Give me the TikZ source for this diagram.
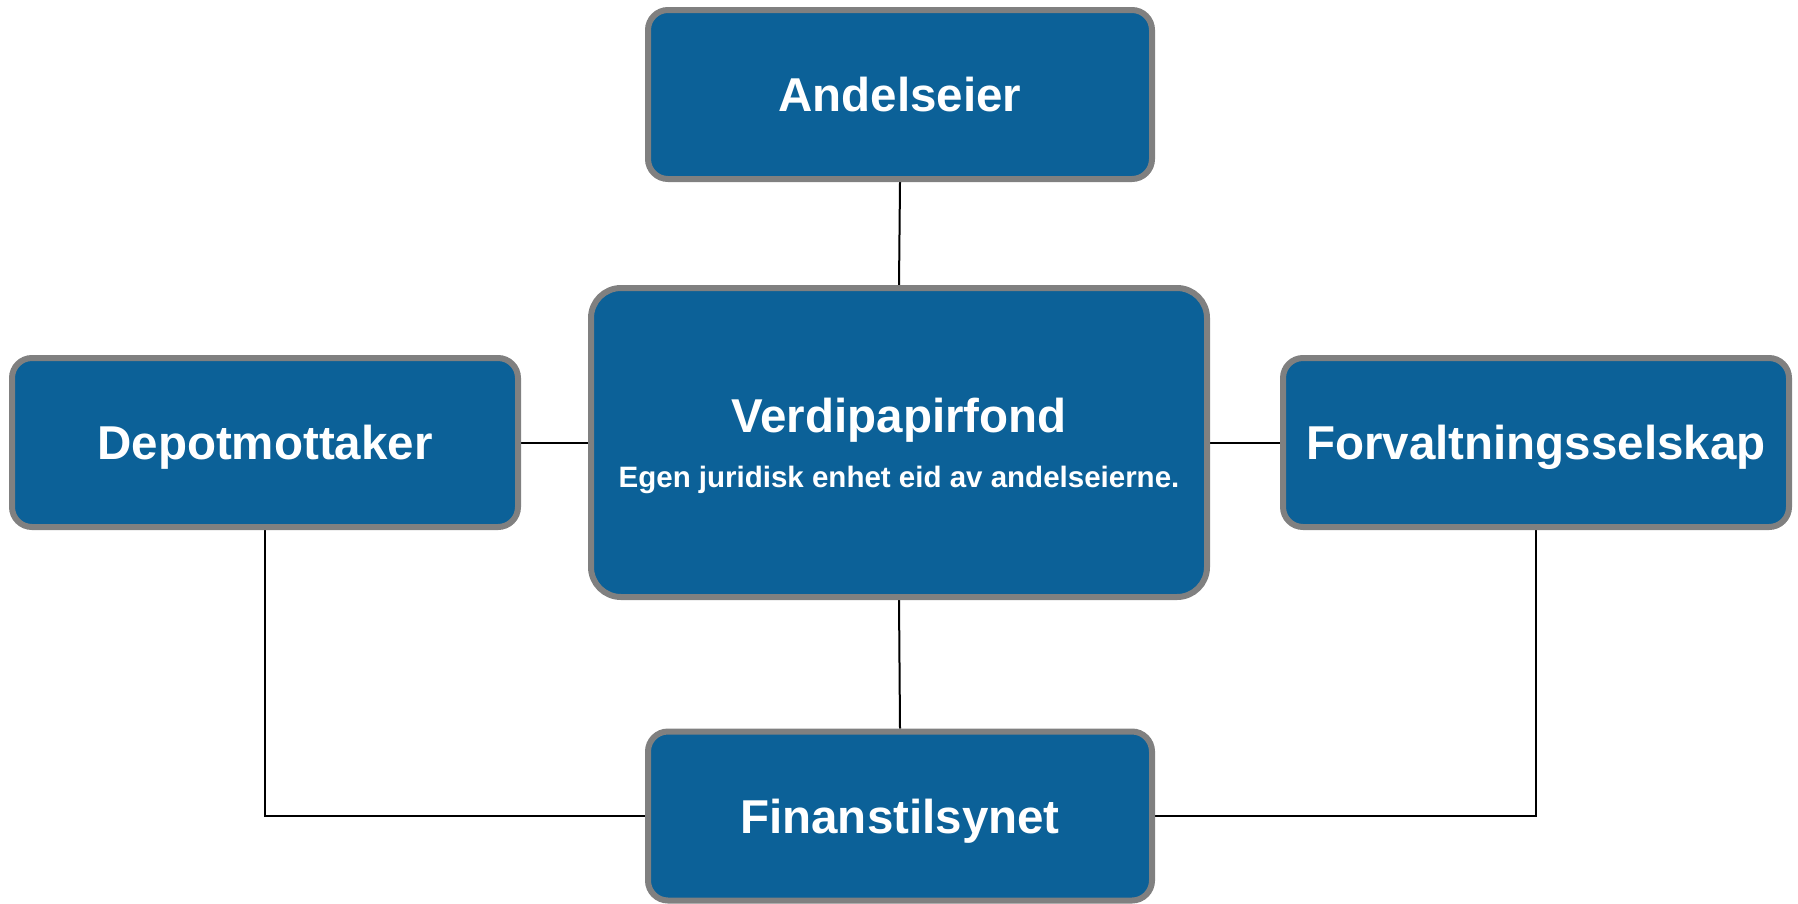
\documentclass[tikz,border=0pt]{standalone}
\usepackage{fontspec}
\setmainfont{Liberation Sans}
\usetikzlibrary{backgrounds}
\definecolor{boxblue}{RGB}{12,97,152}
\definecolor{boxgray}{RGB}{128,128,128}
\tikzset{
  entity/.style={draw=boxgray, line width=6pt, fill=boxblue, rounded corners=20pt,
    text=white, font=\fontsize{47.5}{50}\selectfont\bfseries,
    minimum width=504pt, minimum height=169pt, inner sep=0pt,
    text height=34pt, text depth=0pt},
  bigentity/.style={entity, rounded corners=30pt, minimum width=616pt, minimum height=309pt},
  title/.style={text=white, font=\fontsize{47.5}{50}\selectfont\bfseries, anchor=base, inner sep=0pt},
  subtitle/.style={text=white, font=\fontsize{29.5}{31}\selectfont\bfseries, anchor=base, inner sep=0pt},
  link/.style={draw=black, line width=2pt}
}
\begin{document}
\begin{tikzpicture}[x=1pt, y=-1pt]
\useasboundingbox (0,0) rectangle (1798,903);
\node[entity] (andel) at (900,94.5) {Andelseier};
\node[bigentity] (fond) at (899,442.5) {};
\node[title] (fondtitle) at (899,432) {Verdipapirfond};
\node[subtitle] (fondsub) at (899,487) {Egen juridisk enhet eid av andelseierne.};
\node[entity, minimum width=506pt] (depot) at (265,442.5) {Depotmottaker};
\node[entity, minimum width=506pt] (forv) at (1536,442.5) {Forvaltningsselskap};
\node[entity] (finans) at (900,816) {Finanstilsynet};
\begin{scope}[on background layer]
\draw[link] (andel.south) -- (fond.north);
\draw[link] (depot.east) -- (fond.west);
\draw[link] (fond.east) -- (forv.west);
\draw[link] (fond.south) -- (finans.north);
\draw[link] (depot.south) |- (finans.west);
\draw[link] (forv.south) |- (finans.east);
\end{scope}
\end{tikzpicture}
\end{document}
